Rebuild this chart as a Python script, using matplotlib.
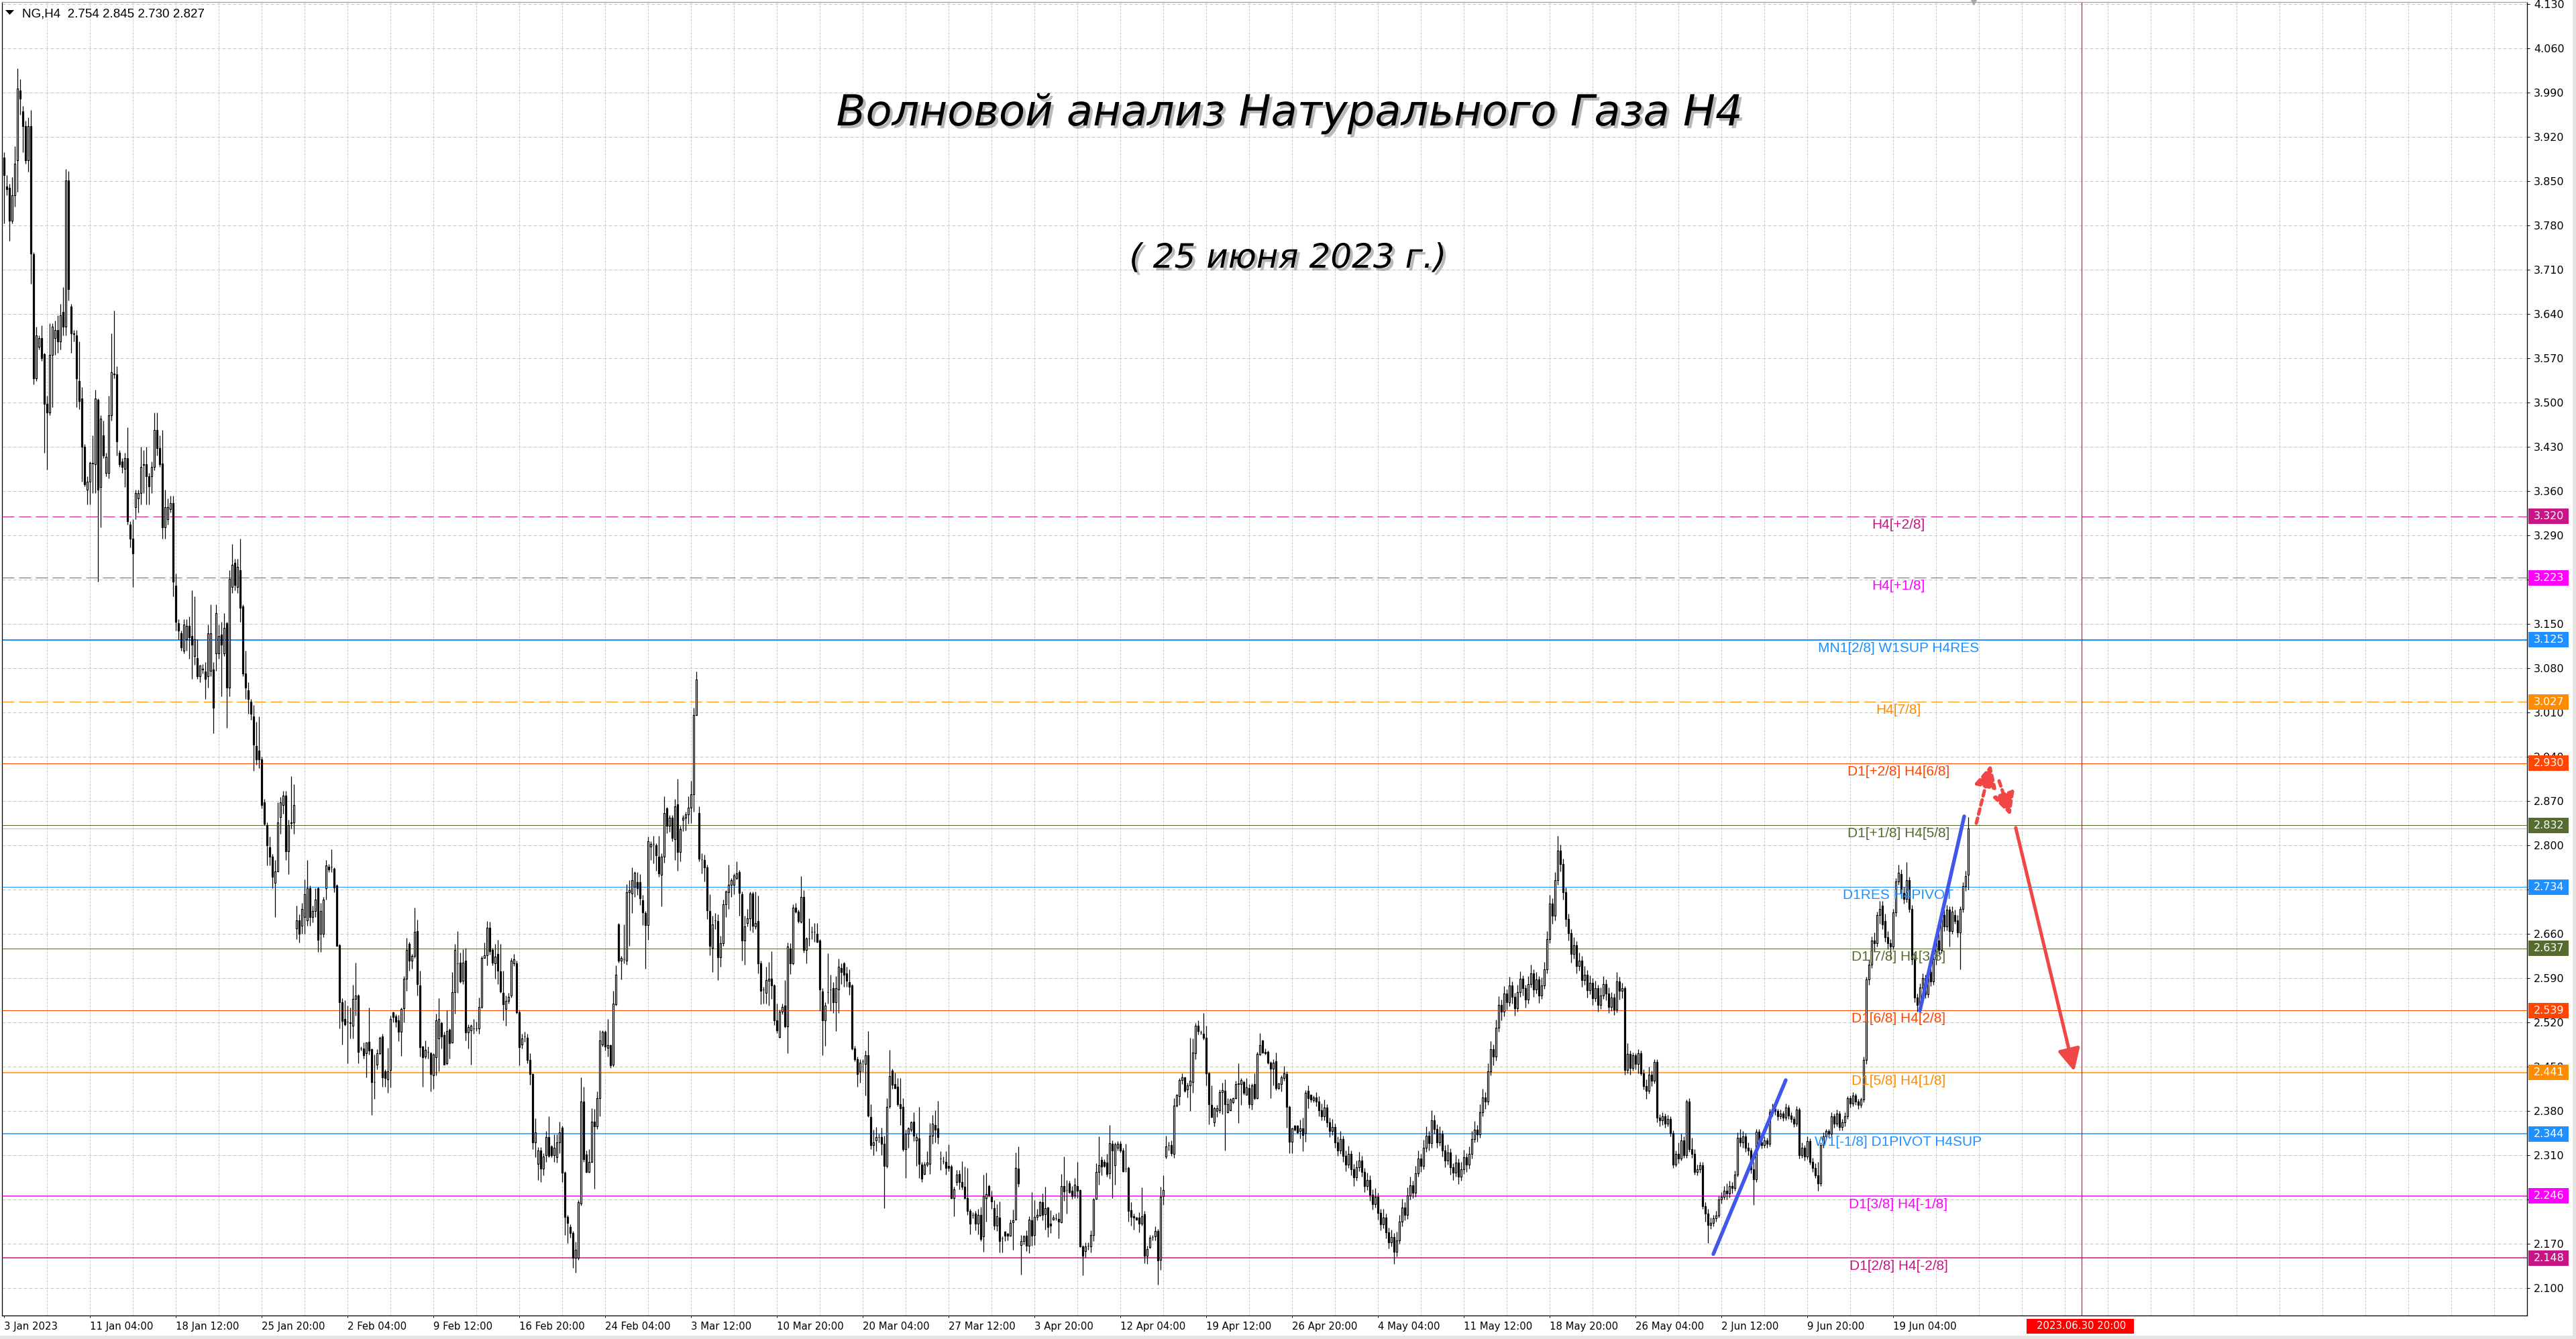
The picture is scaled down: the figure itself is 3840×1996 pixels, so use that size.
import matplotlib
matplotlib.use('Agg')
import matplotlib.pyplot as plt
from matplotlib import font_manager, patheffects
from matplotlib import transforms as mtransforms
from matplotlib.patches import Rectangle, Polygon
from matplotlib.collections import PatchCollection
import numpy as np

# ---------------- DATA (NG, H4 bars) ----------------
opens = [
3.887,3.842,3.839,3.788,3.828,3.883,3.993,3.960,3.937,3.883,
3.937,3.735,3.538,3.588,3.602,3.576,3.498,3.484,3.575,3.602,
3.615,3.597,3.643,3.620,3.851,3.652,3.609,3.606,3.534,3.507,
3.430,3.362,3.375,3.405,3.403,3.504,3.366,3.448,3.389,3.389,
3.480,3.546,3.545,3.421,3.407,3.395,3.412,3.307,3.285,3.335,
3.348,3.357,3.403,3.403,3.383,3.384,3.398,3.457,3.428,3.404,
3.303,3.316,3.332,3.341,3.211,3.151,3.135,3.108,3.126,3.147,
3.131,3.099,3.096,3.067,3.079,3.075,3.067,3.076,3.078,3.104,
3.104,3.133,3.104,3.151,3.049,3.208,3.247,3.208,3.235,3.178,
3.072,3.045,3.027,3.004,2.957,2.950,2.936,2.868,2.832,2.797,
2.782,2.741,2.759,2.845,2.864,2.879,2.791,2.836,2.836,2.669,
2.682,2.673,2.687,2.682,2.732,2.687,2.696,2.732,2.660,2.660,
2.732,2.766,2.766,2.763,2.737,2.642,2.552,2.526,2.521,2.520,
2.515,2.557,2.563,2.479,2.479,2.472,2.490,2.478,2.426,2.454,
2.471,2.498,2.443,2.430,2.445,2.536,2.530,2.523,2.505,2.543,
2.589,2.644,2.618,2.625,2.664,2.579,2.482,2.466,2.474,2.472,
2.437,2.465,2.495,2.519,2.500,2.456,2.509,2.489,2.568,2.614,
2.615,2.586,2.618,2.504,2.508,2.511,2.511,2.511,2.545,2.622,
2.626,2.670,2.635,2.614,2.628,2.601,2.567,2.541,2.554,2.563,
2.614,2.614,2.536,2.485,2.498,2.496,2.461,2.439,2.331,2.297,
2.318,2.289,2.310,2.339,2.324,2.310,2.307,2.330,2.354,2.283,
2.213,2.197,2.187,2.148,2.148,2.234,2.395,2.311,2.284,2.300,
2.363,2.356,2.400,2.485,2.505,2.480,2.484,2.453,2.549,2.675,
2.618,2.620,2.618,2.726,2.724,2.735,2.742,2.742,2.713,2.693,
2.674,2.798,2.802,2.800,2.782,2.754,2.782,2.859,2.831,2.844,
2.810,2.865,2.790,2.841,2.844,2.849,2.860,2.881,3.006,2.851,
2.778,2.777,2.765,2.696,2.638,2.682,2.680,2.623,2.645,2.707,
2.726,2.738,2.738,2.748,2.758,2.723,2.650,2.677,2.685,2.724,
2.672,2.680,2.614,2.572,2.567,2.586,2.589,2.579,2.524,2.497,
2.537,2.547,2.514,2.637,2.614,2.702,2.695,2.679,2.719,2.635,
2.653,2.663,2.663,2.660,2.650,2.569,2.524,2.568,2.572,2.574,
2.552,2.572,2.606,2.614,2.598,2.584,2.579,2.479,2.462,2.443,
2.459,2.455,2.468,2.371,2.326,2.334,2.339,2.339,2.328,2.293,
2.388,2.444,2.423,2.418,2.391,2.387,2.320,2.344,2.351,2.363,
2.334,2.337,2.295,2.281,2.295,2.297,2.341,2.358,2.353,2.305,
2.301,2.300,2.293,2.292,2.243,2.268,2.281,2.268,2.260,2.243,
2.222,2.216,2.218,2.202,2.216,2.182,2.243,2.262,2.245,2.227,
2.199,2.212,2.179,2.189,2.186,2.183,2.204,2.209,2.289,2.168,
2.175,2.183,2.167,2.208,2.184,2.213,2.215,2.236,2.217,2.228,
2.202,2.209,2.211,2.210,2.204,2.262,2.255,2.266,2.254,2.247,
2.262,2.255,2.166,2.159,2.167,2.166,2.184,2.241,2.284,2.303,
2.300,2.299,2.282,2.328,2.294,2.322,2.328,2.318,2.289,2.290,
2.223,2.214,2.212,2.212,2.202,2.217,2.151,2.165,2.181,2.182,
2.190,2.145,2.246,2.308,2.326,2.326,2.312,2.389,2.404,2.429,
2.433,2.414,2.421,2.426,2.472,2.515,2.504,2.502,2.496,2.440,
2.390,2.362,2.380,2.381,2.410,2.412,2.378,2.381,2.394,2.400,
2.423,2.423,2.426,2.406,2.416,2.391,2.423,2.400,2.469,2.492,
2.474,2.474,2.457,2.447,2.459,2.416,2.423,2.432,2.439,2.387,
2.332,2.357,2.357,2.349,2.353,2.345,2.412,2.406,2.397,2.402,
2.395,2.381,2.372,2.386,2.362,2.348,2.355,2.331,2.318,2.336,
2.309,2.296,2.312,2.288,2.275,2.291,2.302,2.284,2.262,2.271,
2.248,2.233,2.245,2.219,2.201,2.212,2.188,2.172,2.181,2.158,
2.176,2.205,2.228,2.216,2.247,2.263,2.251,2.282,2.305,2.293,
2.322,2.341,2.329,2.366,2.352,2.331,2.344,2.318,2.302,2.315,
2.291,2.283,2.299,2.276,2.288,2.307,2.295,2.312,2.336,2.351,
2.343,2.378,2.402,2.395,2.443,2.478,2.466,2.512,2.548,2.537,
2.566,2.552,2.579,2.561,2.543,2.568,2.589,2.574,2.556,2.581,
2.598,2.572,2.588,2.563,2.579,2.604,2.652,2.708,2.689,2.745,
2.792,2.771,2.726,2.684,2.661,2.628,2.642,2.609,2.618,2.587,
2.596,2.571,2.583,2.559,2.574,2.548,2.563,2.581,2.566,2.545,
2.560,2.540,2.585,2.570,2.574,2.445,2.470,2.448,2.468,2.455,
2.472,2.440,2.420,2.412,2.438,2.428,2.458,2.370,2.365,2.372,
2.360,2.368,2.345,2.296,2.312,2.305,2.334,2.310,2.395,2.320,
2.312,2.284,2.288,2.294,2.230,2.218,2.200,2.203,2.211,2.215,
2.240,2.245,2.254,2.250,2.262,2.258,2.280,2.338,2.330,2.340,
2.322,2.318,2.288,2.272,2.347,2.330,2.326,2.334,2.328,2.378,
2.383,2.380,2.372,2.376,2.370,2.386,2.373,2.368,2.360,2.382,
2.310,2.322,2.308,2.333,2.300,2.290,2.278,2.266,2.326,2.340,
2.348,2.344,2.372,2.360,2.376,2.355,2.362,2.372,2.400,2.392,
2.405,2.395,2.390,2.398,2.461,2.588,2.612,2.650,2.645,2.690,
2.705,2.680,2.655,2.645,2.640,2.694,2.743,2.755,2.725,2.715,
2.745,2.700,2.620,2.560,2.548,2.575,2.590,2.565,2.600,2.585,
2.620,2.650,2.635,2.690,2.672,2.698,2.665,2.690,2.682,2.662,
2.700,2.736,2.754]

highs = [
3.896,3.860,3.846,3.856,3.905,4.028,4.011,3.969,3.946,3.951,
3.962,3.738,3.620,3.606,3.622,3.579,3.511,3.625,3.625,3.629,
3.638,3.656,3.683,3.869,3.866,3.656,3.615,3.615,3.597,3.525,
3.434,3.384,3.407,3.448,3.520,3.507,3.480,3.471,3.421,3.511,
3.609,3.645,3.557,3.425,3.412,3.421,3.461,3.312,3.316,3.362,
3.362,3.430,3.425,3.430,3.389,3.407,3.484,3.484,3.448,3.457,
3.362,3.348,3.353,3.353,3.230,3.158,3.140,3.158,3.158,3.162,
3.203,3.194,3.126,3.085,3.087,3.090,3.149,3.181,3.090,3.181,
3.149,3.153,3.167,3.153,3.235,3.276,3.253,3.253,3.285,3.181,
3.108,3.058,3.031,3.022,2.995,3.004,2.940,2.873,2.836,2.814,
2.786,2.777,2.868,2.877,2.886,2.886,2.841,2.909,2.897,2.705,
2.691,2.709,2.746,2.777,2.737,2.705,2.732,2.734,2.709,2.719,
2.777,2.771,2.794,2.765,2.739,2.644,2.558,2.555,2.547,2.544,
2.580,2.615,2.565,2.482,2.489,2.489,2.544,2.479,2.469,2.478,
2.498,2.502,2.446,2.480,2.531,2.537,2.533,2.532,2.544,2.593,
2.654,2.648,2.628,2.702,2.683,2.602,2.483,2.492,2.482,2.474,
2.471,2.534,2.559,2.521,2.505,2.539,2.511,2.600,2.644,2.665,
2.631,2.636,2.638,2.517,2.517,2.526,2.521,2.560,2.625,2.646,
2.680,2.679,2.638,2.644,2.651,2.644,2.602,2.563,2.567,2.622,
2.628,2.618,2.539,2.502,2.505,2.502,2.472,2.440,2.369,2.323,
2.323,2.313,2.349,2.372,2.326,2.343,2.343,2.363,2.357,2.285,
2.216,2.201,2.190,2.174,2.239,2.433,2.419,2.318,2.320,2.385,
2.383,2.411,2.508,2.508,2.508,2.526,2.485,2.570,2.610,2.677,
2.625,2.675,2.739,2.745,2.765,2.759,2.758,2.755,2.722,2.696,
2.814,2.807,2.815,2.803,2.815,2.787,2.878,2.861,2.848,2.848,
2.873,2.905,2.831,2.848,2.853,2.878,2.902,3.018,3.075,2.862,
2.787,2.785,2.770,2.723,2.689,2.693,2.691,2.657,2.714,2.729,
2.770,2.748,2.756,2.775,2.761,2.727,2.689,2.699,2.727,2.727,
2.727,2.721,2.618,2.577,2.608,2.616,2.633,2.581,2.550,2.540,
2.550,2.587,2.646,2.645,2.707,2.709,2.698,2.752,2.729,2.655,
2.685,2.672,2.677,2.677,2.652,2.574,2.552,2.630,2.596,2.584,
2.594,2.621,2.614,2.616,2.608,2.604,2.581,2.483,2.466,2.462,
2.462,2.476,2.506,2.391,2.351,2.355,2.344,2.354,2.341,2.401,
2.477,2.447,2.441,2.432,2.432,2.400,2.351,2.355,2.364,2.378,
2.344,2.387,2.300,2.300,2.317,2.361,2.374,2.381,2.396,2.317,
2.308,2.317,2.327,2.295,2.260,2.287,2.287,2.301,2.292,2.290,
2.226,2.220,2.222,2.226,2.229,2.280,2.283,2.264,2.254,2.239,
2.233,2.237,2.182,2.190,2.187,2.209,2.224,2.315,2.324,2.184,
2.184,2.192,2.214,2.252,2.239,2.226,2.238,2.250,2.261,2.229,
2.223,2.216,2.218,2.220,2.281,2.308,2.271,2.270,2.262,2.274,
2.300,2.256,2.168,2.172,2.173,2.192,2.243,2.298,2.340,2.308,
2.304,2.312,2.358,2.334,2.330,2.333,2.333,2.322,2.328,2.292,
2.236,2.218,2.213,2.220,2.259,2.222,2.167,2.184,2.184,2.198,
2.194,2.260,2.279,2.341,2.332,2.334,2.400,2.407,2.432,2.440,
2.434,2.425,2.496,2.495,2.519,2.523,2.508,2.535,2.515,2.442,
2.421,2.387,2.390,2.414,2.425,2.430,2.400,2.400,2.402,2.428,
2.456,2.432,2.428,2.432,2.423,2.424,2.440,2.474,2.503,2.493,
2.479,2.476,2.459,2.462,2.473,2.425,2.436,2.451,2.443,2.389,
2.354,2.358,2.358,2.367,2.370,2.413,2.421,2.407,2.405,2.410,
2.404,2.392,2.398,2.391,2.370,2.368,2.360,2.340,2.349,2.341,
2.318,2.325,2.318,2.297,2.302,2.316,2.309,2.290,2.283,2.279,
2.256,2.258,2.251,2.226,2.225,2.218,2.196,2.193,2.187,2.189,
2.216,2.241,2.236,2.259,2.276,2.270,2.293,2.318,2.312,2.335,
2.356,2.349,2.381,2.374,2.359,2.356,2.350,2.326,2.327,2.321,
2.298,2.311,2.305,2.300,2.319,2.314,2.324,2.348,2.364,2.358,
2.391,2.415,2.410,2.456,2.491,2.485,2.525,2.562,2.556,2.578,
2.572,2.592,2.585,2.567,2.580,2.601,2.595,2.580,2.593,2.611,
2.604,2.600,2.594,2.591,2.616,2.665,2.722,2.716,2.758,2.815,
2.801,2.779,2.733,2.692,2.668,2.655,2.649,2.631,2.625,2.609,
2.603,2.595,2.590,2.586,2.580,2.575,2.593,2.588,2.575,2.568,
2.566,2.600,2.592,2.583,2.578,2.487,2.476,2.473,2.472,2.478,
2.476,2.446,2.430,2.450,2.444,2.462,2.462,2.375,2.378,2.376,
2.374,2.372,2.350,2.318,2.330,2.344,2.340,2.398,2.400,2.338,
2.320,2.295,2.300,2.300,2.236,2.226,2.212,2.216,2.222,2.246,
2.252,2.262,2.266,2.270,2.268,2.286,2.346,2.352,2.348,2.345,
2.330,2.322,2.300,2.352,2.352,2.340,2.340,2.338,2.384,2.392,
2.390,2.384,2.382,2.380,2.392,2.390,2.378,2.372,2.388,2.386,
2.330,2.326,2.340,2.337,2.306,2.298,2.300,2.330,2.346,2.352,
2.352,2.378,2.376,2.382,2.380,2.368,2.378,2.404,2.405,2.410,
2.408,2.399,2.402,2.466,2.592,2.620,2.656,2.662,2.695,2.712,
2.712,2.692,2.664,2.652,2.700,2.748,2.770,2.762,2.734,2.774,
2.750,2.706,2.628,2.566,2.582,2.598,2.596,2.606,2.606,2.626,
2.658,2.660,2.702,2.698,2.706,2.704,2.704,2.698,2.690,2.704,
2.742,2.760,2.845]

lows = [
3.783,3.828,3.756,3.783,3.810,3.833,3.955,3.896,3.878,3.865,
3.688,3.529,3.534,3.584,3.566,3.421,3.394,3.480,3.493,3.575,
3.579,3.584,3.606,3.606,3.661,3.579,3.597,3.493,3.489,3.375,
3.368,3.339,3.339,3.357,3.357,3.217,3.303,3.412,3.384,3.380,
3.471,3.538,3.416,3.398,3.389,3.366,3.307,3.271,3.208,3.316,
3.326,3.339,3.357,3.339,3.339,3.357,3.393,3.416,3.398,3.285,
3.285,3.307,3.326,3.194,3.140,3.126,3.108,3.104,3.108,3.095,
3.063,3.085,3.063,3.058,3.072,3.031,3.049,3.067,2.977,3.076,
3.095,3.036,3.099,2.986,3.036,3.199,3.203,3.199,3.153,3.067,
3.031,3.008,2.999,2.918,2.927,2.922,2.859,2.832,2.768,2.768,
2.732,2.687,2.759,2.818,2.850,2.777,2.755,2.827,2.818,2.652,
2.646,2.660,2.660,2.673,2.673,2.678,2.687,2.632,2.632,2.655,
2.714,2.758,2.758,2.726,2.641,2.511,2.485,2.515,2.456,2.495,
2.495,2.531,2.456,2.476,2.463,2.433,2.469,2.374,2.399,2.446,
2.469,2.419,2.419,2.409,2.417,2.520,2.513,2.491,2.467,2.520,
2.570,2.602,2.605,2.622,2.563,2.466,2.419,2.463,2.463,2.411,
2.415,2.437,2.443,2.479,2.453,2.454,2.463,2.487,2.534,2.567,
2.583,2.581,2.492,2.479,2.453,2.502,2.506,2.502,2.543,2.622,
2.610,2.627,2.610,2.589,2.581,2.567,2.524,2.515,2.550,2.560,
2.609,2.534,2.452,2.479,2.490,2.456,2.422,2.320,2.307,2.271,
2.268,2.278,2.300,2.307,2.307,2.300,2.299,2.313,2.268,2.184,
2.171,2.180,2.132,2.125,2.145,2.231,2.300,2.283,2.283,2.299,
2.257,2.352,2.372,2.482,2.476,2.466,2.448,2.450,2.547,2.615,
2.588,2.614,2.612,2.641,2.693,2.719,2.722,2.706,2.674,2.605,
2.651,2.777,2.772,2.760,2.750,2.704,2.773,2.819,2.821,2.807,
2.777,2.760,2.775,2.822,2.824,2.834,2.835,2.853,3.006,2.775,
2.756,2.743,2.684,2.626,2.600,2.668,2.587,2.608,2.641,2.687,
2.700,2.719,2.723,2.746,2.689,2.618,2.611,2.672,2.666,2.662,
2.668,2.598,2.549,2.550,2.550,2.547,2.557,2.516,2.503,2.496,
2.533,2.512,2.472,2.597,2.612,2.693,2.677,2.677,2.631,2.614,
2.641,2.652,2.648,2.646,2.538,2.468,2.483,2.550,2.538,2.535,
2.506,2.535,2.581,2.577,2.577,2.564,2.477,2.459,2.418,2.425,
2.442,2.405,2.371,2.320,2.310,2.317,2.330,2.310,2.227,2.290,
2.385,2.415,2.415,2.388,2.358,2.317,2.274,2.322,2.347,2.333,
2.293,2.274,2.268,2.280,2.292,2.281,2.328,2.330,2.328,2.287,
2.297,2.280,2.285,2.241,2.214,2.263,2.256,2.256,2.241,2.216,
2.185,2.211,2.192,2.185,2.175,2.158,2.205,2.245,2.226,2.193,
2.190,2.157,2.157,2.175,2.176,2.182,2.161,2.209,2.260,2.122,
2.169,2.159,2.156,2.167,2.168,2.207,2.214,2.208,2.193,2.181,
2.187,2.208,2.208,2.179,2.203,2.238,2.218,2.250,2.241,2.242,
2.243,2.165,2.120,2.149,2.161,2.157,2.175,2.240,2.264,2.279,
2.291,2.276,2.273,2.243,2.264,2.318,2.315,2.284,2.284,2.205,
2.199,2.193,2.207,2.188,2.199,2.140,2.139,2.163,2.176,2.176,
2.106,2.129,2.232,2.305,2.318,2.309,2.306,2.387,2.390,2.423,
2.410,2.402,2.380,2.409,2.462,2.501,2.501,2.493,2.421,2.359,
2.370,2.356,2.371,2.377,2.375,2.318,2.377,2.380,2.392,2.399,
2.361,2.390,2.406,2.406,2.385,2.382,2.398,2.399,2.468,2.471,
2.469,2.455,2.401,2.421,2.413,2.414,2.411,2.428,2.354,2.314,
2.313,2.349,2.344,2.337,2.317,2.332,2.385,2.394,2.394,2.388,
2.372,2.365,2.366,2.355,2.339,2.342,2.322,2.309,2.312,2.300,
2.285,2.290,2.279,2.262,2.270,2.285,2.276,2.252,2.255,2.238,
2.224,2.228,2.209,2.192,2.195,2.179,2.163,2.166,2.139,2.150,
2.170,2.198,2.207,2.210,2.240,2.242,2.245,2.276,2.284,2.288,
2.316,2.318,2.322,2.344,2.322,2.325,2.308,2.291,2.295,2.280,
2.271,2.276,2.265,2.270,2.281,2.284,2.289,2.305,2.330,2.332,
2.338,2.372,2.383,2.390,2.437,2.452,2.460,2.505,2.524,2.530,
2.540,2.546,2.550,2.531,2.537,2.561,2.563,2.544,2.550,2.575,
2.561,2.566,2.551,2.557,2.573,2.598,2.645,2.676,2.682,2.738,
2.759,2.714,2.672,2.650,2.615,2.621,2.598,2.602,2.576,2.580,
2.560,2.565,2.548,2.553,2.537,2.542,2.557,2.555,2.535,2.538,
2.532,2.536,2.556,2.558,2.438,2.440,2.438,2.444,2.446,2.440,
2.436,2.414,2.399,2.408,2.420,2.424,2.362,2.356,2.358,2.354,
2.356,2.340,2.290,2.292,2.298,2.302,2.306,2.306,2.316,2.306,
2.280,2.278,2.283,2.226,2.205,2.171,2.194,2.198,2.205,2.212,
2.234,2.240,2.240,2.244,2.250,2.254,2.276,2.324,2.322,2.316,
2.310,2.282,2.232,2.268,2.325,2.321,2.322,2.322,2.324,2.372,
2.374,2.366,2.368,2.364,2.366,2.368,2.362,2.355,2.356,2.305,
2.306,2.302,2.304,2.296,2.284,2.274,2.254,2.262,2.322,2.336,
2.338,2.340,2.354,2.356,2.350,2.350,2.356,2.368,2.386,2.388,
2.390,2.384,2.386,2.394,2.455,2.580,2.606,2.632,2.640,2.676,
2.668,2.648,2.636,2.620,2.636,2.688,2.738,2.716,2.708,2.710,
2.694,2.612,2.552,2.537,2.542,2.568,2.558,2.560,2.578,2.580,
2.612,2.628,2.630,2.664,2.666,2.640,2.660,2.676,2.655,2.604,
2.694,2.728,2.730]

closes = [
3.860,3.837,3.788,3.828,3.878,3.996,3.980,3.937,3.883,3.937,
3.736,3.538,3.606,3.602,3.570,3.498,3.484,3.575,3.620,3.615,
3.597,3.638,3.620,3.851,3.679,3.609,3.608,3.538,3.502,3.430,
3.371,3.375,3.405,3.404,3.507,3.362,3.475,3.416,3.414,3.480,
3.548,3.545,3.439,3.403,3.398,3.412,3.312,3.285,3.262,3.357,
3.357,3.398,3.402,3.384,3.368,3.398,3.457,3.428,3.403,3.303,
3.335,3.335,3.341,3.217,3.153,3.140,3.113,3.149,3.147,3.129,
3.117,3.126,3.067,3.084,3.078,3.063,3.135,3.135,3.018,3.167,
3.131,3.117,3.144,3.049,3.221,3.244,3.212,3.240,3.176,3.072,
3.049,3.031,3.008,2.959,2.936,2.936,2.864,2.834,2.800,2.782,
2.750,2.759,2.836,2.868,2.879,2.791,2.832,2.835,2.864,2.682,
2.660,2.700,2.723,2.732,2.687,2.696,2.714,2.651,2.696,2.714,
2.768,2.762,2.766,2.733,2.641,2.552,2.522,2.517,2.521,2.519,
2.557,2.563,2.474,2.479,2.468,2.489,2.476,2.426,2.426,2.472,
2.496,2.433,2.432,2.443,2.526,2.529,2.521,2.505,2.541,2.589,
2.635,2.618,2.625,2.663,2.581,2.481,2.465,2.477,2.474,2.439,
2.469,2.524,2.526,2.498,2.454,2.507,2.487,2.568,2.635,2.614,
2.585,2.615,2.504,2.513,2.515,2.511,2.511,2.545,2.622,2.626,
2.670,2.633,2.615,2.624,2.602,2.569,2.549,2.554,2.561,2.618,
2.620,2.536,2.481,2.495,2.498,2.461,2.439,2.331,2.346,2.318,
2.289,2.308,2.339,2.309,2.310,2.322,2.330,2.346,2.283,2.213,
2.203,2.187,2.148,2.161,2.236,2.395,2.304,2.284,2.300,2.363,
2.356,2.400,2.492,2.505,2.482,2.484,2.452,2.550,2.596,2.618,
2.622,2.620,2.726,2.729,2.745,2.757,2.732,2.716,2.694,2.674,
2.807,2.802,2.802,2.784,2.756,2.782,2.851,2.831,2.844,2.812,
2.862,2.790,2.826,2.844,2.849,2.860,2.881,3.006,3.062,2.779,
2.778,2.765,2.697,2.641,2.675,2.682,2.623,2.645,2.707,2.727,
2.738,2.745,2.753,2.756,2.725,2.650,2.672,2.685,2.724,2.673,
2.677,2.614,2.570,2.572,2.587,2.589,2.579,2.523,2.508,2.537,
2.545,2.514,2.640,2.614,2.702,2.695,2.680,2.719,2.635,2.653,
2.653,2.663,2.663,2.648,2.572,2.524,2.547,2.568,2.572,2.552,
2.574,2.608,2.600,2.596,2.586,2.577,2.479,2.462,2.439,2.457,
2.459,2.468,2.373,2.326,2.330,2.339,2.339,2.328,2.293,2.387,
2.435,2.422,2.416,2.391,2.385,2.320,2.344,2.353,2.362,2.341,
2.339,2.297,2.273,2.295,2.299,2.341,2.360,2.351,2.339,2.305,
2.301,2.290,2.290,2.243,2.256,2.280,2.268,2.260,2.243,2.222,
2.202,2.216,2.202,2.216,2.178,2.246,2.249,2.247,2.237,2.199,
2.214,2.175,2.179,2.183,2.183,2.203,2.208,2.290,2.266,2.175,
2.182,2.167,2.209,2.183,2.213,2.216,2.236,2.216,2.227,2.197,
2.199,2.212,2.211,2.205,2.262,2.253,2.255,2.252,2.246,2.264,
2.254,2.166,2.151,2.166,2.167,2.184,2.240,2.284,2.294,2.292,
2.293,2.281,2.329,2.318,2.327,2.328,2.318,2.285,2.289,2.222,
2.213,2.212,2.209,2.202,2.214,2.151,2.162,2.180,2.181,2.190,
2.144,2.245,2.255,2.324,2.326,2.313,2.389,2.406,2.429,2.433,
2.412,2.421,2.428,2.473,2.515,2.506,2.504,2.496,2.440,2.391,
2.371,2.385,2.385,2.410,2.413,2.391,2.391,2.398,2.400,2.423,
2.424,2.429,2.409,2.417,2.391,2.421,2.400,2.470,2.484,2.473,
2.471,2.457,2.447,2.457,2.416,2.424,2.433,2.440,2.387,2.332,
2.353,2.351,2.346,2.353,2.342,2.409,2.400,2.398,2.402,2.395,
2.381,2.372,2.386,2.362,2.348,2.355,2.331,2.318,2.336,2.309,
2.296,2.312,2.288,2.275,2.291,2.302,2.284,2.262,2.271,2.248,
2.233,2.245,2.219,2.201,2.212,2.188,2.172,2.181,2.158,2.176,
2.205,2.228,2.216,2.247,2.263,2.251,2.282,2.305,2.293,2.322,
2.341,2.329,2.366,2.352,2.331,2.344,2.318,2.302,2.315,2.291,
2.283,2.299,2.276,2.288,2.307,2.295,2.312,2.336,2.351,2.343,
2.378,2.402,2.395,2.443,2.478,2.466,2.512,2.548,2.537,2.566,
2.552,2.579,2.561,2.543,2.568,2.589,2.574,2.556,2.581,2.598,
2.572,2.588,2.563,2.579,2.604,2.652,2.708,2.689,2.745,2.792,
2.771,2.726,2.684,2.661,2.628,2.642,2.609,2.618,2.587,2.596,
2.571,2.583,2.559,2.574,2.548,2.563,2.581,2.566,2.545,2.560,
2.540,2.585,2.570,2.574,2.445,2.470,2.448,2.468,2.455,2.472,
2.440,2.420,2.412,2.438,2.428,2.458,2.370,2.365,2.372,2.360,
2.368,2.345,2.296,2.312,2.305,2.334,2.310,2.395,2.320,2.312,
2.284,2.288,2.294,2.230,2.218,2.200,2.203,2.211,2.215,2.240,
2.245,2.254,2.250,2.262,2.258,2.280,2.338,2.330,2.340,2.322,
2.318,2.288,2.272,2.347,2.330,2.326,2.334,2.328,2.378,2.383,
2.380,2.372,2.376,2.370,2.386,2.373,2.368,2.360,2.382,2.310,
2.322,2.308,2.333,2.300,2.290,2.278,2.266,2.326,2.340,2.348,
2.344,2.372,2.360,2.376,2.355,2.362,2.372,2.400,2.392,2.405,
2.395,2.390,2.398,2.461,2.588,2.612,2.650,2.645,2.690,2.700,
2.675,2.655,2.645,2.640,2.694,2.743,2.757,2.725,2.715,2.745,
2.700,2.620,2.560,2.548,2.575,2.590,2.565,2.600,2.585,2.620,
2.650,2.635,2.690,2.672,2.698,2.665,2.695,2.680,2.662,2.700,
2.736,2.752,2.827]

date_labels = ["3 Jan 2023", "11 Jan 04:00", "18 Jan 12:00", "25 Jan 20:00", "2 Feb 04:00",
               "9 Feb 12:00", "16 Feb 20:00", "24 Feb 04:00", "3 Mar 12:00", "10 Mar 20:00",
               "20 Mar 04:00", "27 Mar 12:00", "3 Apr 20:00", "12 Apr 04:00", "19 Apr 12:00",
               "26 Apr 20:00", "4 May 04:00", "11 May 12:00", "18 May 20:00", "26 May 04:00",
               "2 Jun 12:00", "9 Jun 20:00", "19 Jun 04:00"]
bars_per_label = 32

level_prices = [3.320, 3.223, 3.125, 3.027, 2.930, 2.832, 2.734, 2.637, 2.539, 2.441, 2.344, 2.246, 2.148]
level_labels = ["H4[+2/8]", "H4[+1/8]", "MN1[2/8] W1SUP H4RES", "H4[7/8]", "D1[+2/8] H4[6/8]",
                "D1[+1/8] H4[5/8]", "D1RES H4PIVOT", "D1[7/8] H4[3/8]", "D1[6/8] H4[2/8]",
                "D1[5/8] H4[1/8]", "W1[-1/8] D1PIVOT H4SUP", "D1[3/8] H4[-1/8]", "D1[2/8] H4[-2/8]"]
level_colors = ["#C71585", "#FF00FF", "#1E90FF", "#FF8C00", "#FF4500", "#556B2F", "#1E90FF",
                "#556B2F", "#FF4500", "#FF8C00", "#1E90FF", "#FF00FF", "#C71585"]
level_dashed = [True, True, False, True, False, False, False, False, False, False, False, False, False]
level_width_px = [1, 1, 2, 1, 1, 1, 1, 1, 1, 1.5, 1.5, 1.5, 1.5]

# wave markup (bar index, price)
wave_a_x, wave_a_y = [637.0, 664.0], [2.154, 2.429]
wave_b_x, wave_b_y = [714.0, 730.5], [2.539, 2.846]
arrow_up = ((735.0, 2.835), (740.5, 2.928))
arrow_back = ((743.5, 2.902), (747.8, 2.847))
arrow_down = ((749.7, 2.828), (771.5, 2.443))
forecast_bar = 774.25
forecast_label = "2023.06.30 20:00"

title = "Волновой анализ Натурального Газа H4"
subtitle = "( 25 июня 2023 г.)"
header = "NG,H4  2.754 2.845 2.730 2.827"

# ---------------- FIGURE ----------------
W, H, DPI = 3840, 1996, 100
fig = plt.figure(figsize=(W / DPI, H / DPI), dpi=DPI)
fig.patch.set_facecolor('white')

names = {f.name for f in font_manager.fontManager.ttflist}
NARROW = 'Liberation Sans Narrow' if 'Liberation Sans Narrow' in names else 'DejaVu Sans'
SANS = 'Liberation Sans' if 'Liberation Sans' in names else 'DejaVu Sans'
nscale = 1.0 if NARROW == 'Liberation Sans Narrow' else 0.78


def pt(px):
    return px * 72.0 / DPI


ax = fig.add_axes([3 / W, 35 / H, 3764 / W, 1958 / H])
ax.set_facecolor('white')
ax.set_xlim(-0.75, 940.25)
ax.set_ylim(2.0569, 4.1332)

o = np.array(opens); h = np.array(highs); l = np.array(lows); c = np.array(closes)
n = len(c)
xs = np.arange(n)

# grid
yticks = [round(2.10 + 0.07 * k, 3) for k in range(30)]
for yv in yticks:
    ax.axhline(yv, color='#C8C8C8', lw=pt(1), dashes=(5, 3), zorder=0)
for xb in range(16, 941, 16):
    ax.axvline(xb, color='#C8C8C8', lw=pt(1), dashes=(3, 2), zorder=0)

# level lines
for p, col, dsh, wpx in zip(level_prices, level_colors, level_dashed, level_width_px):
    if dsh:
        ax.axhline(p, color=col, lw=pt(wpx), dashes=(18, 7), zorder=1)
    else:
        ax.axhline(p, color=col, lw=pt(wpx), zorder=1)
# bid line
ax.axhline(c[-1], color='#C0C0C0', lw=pt(1), zorder=1)
# time marker
ax.axvline(forecast_bar, color='#FF0000', lw=pt(1.2), zorder=1)

# candles
ax.vlines(xs, np.minimum(l, np.minimum(o, c)), np.maximum(h, np.maximum(o, c)),
          color='black', lw=pt(1.25), zorder=3)
bw = 0.55
rects = [Rectangle((i - bw / 2, min(o[i], c[i])), bw, max(abs(c[i] - o[i]), 1e-5)) for i in range(n)]
pc = PatchCollection(rects, facecolors=['white' if c[i] >= o[i] else 'black' for i in range(n)],
                     edgecolors='black', linewidths=pt(1.2), zorder=4)
ax.add_collection(pc)

# level labels
lab_tr = mtransforms.offset_copy(ax.transData, fig=fig, x=0, y=-3, units='dots')
for p, txt, col in zip(level_prices, level_labels, level_colors):
    ax.text(706, p, txt, color=col, fontsize=15, family=SANS, ha='center', va='top',
            transform=lab_tr, zorder=6)

# wave lines
blue = '#4157EA'
ax.plot(wave_a_x, wave_a_y, color=blue, lw=pt(5.5), solid_capstyle='round', zorder=7)
ax.plot(wave_b_x, wave_b_y, color=blue, lw=pt(5.5), solid_capstyle='round', zorder=7)

red = '#F04646'
for (p0, p1), ls in [(arrow_up, (0, (1.6, 1.2))), (arrow_back, (0, (1.6, 1.2))), (arrow_down, '-')]:
    ax.annotate('', xy=p1, xytext=p0, zorder=7,
                arrowprops=dict(arrowstyle='-|>,head_length=0.8,head_width=0.4', color=red,
                                lw=pt(5), linestyle=ls, shrinkA=0, shrinkB=0, mutation_scale=25))

# axes styling
for s in ['left', 'bottom', 'right']:
    ax.spines[s].set_color('black')
    ax.spines[s].set_linewidth(pt(1.3))
ax.spines['top'].set_color('#A0A0A0')
ax.spines['top'].set_linewidth(pt(1.3))

ax.yaxis.tick_right()
ax.set_yticks(yticks)
ax.set_yticklabels([f"{v:.3f}" for v in yticks], family=NARROW)
ax.tick_params(axis='y', direction='out', length=pt(4), width=pt(1), pad=pt(6),
               labelsize=14.8 * nscale, colors='black')
label_bars = [k * bars_per_label for k in range(len(date_labels))]
ax.set_xticks(label_bars)
ax.set_xticklabels(date_labels, family=NARROW, ha='left')
ax.tick_params(axis='x', direction='out', length=pt(3), width=pt(1), pad=pt(6),
               labelsize=13.7 * nscale, colors='black')

# right-side level price boxes
btr = mtransforms.blended_transform_factory(ax.transAxes, ax.transData)
bh = 23 / 943.0
for p, col in zip(level_prices, level_colors):
    ax.add_patch(Rectangle((1.00053, p - bh / 2), 60 / 3764, bh, transform=btr, facecolor=col,
                           edgecolor='none', clip_on=False, zorder=10))
    ax.text(1.00266, p, f"{p:.3f}", transform=btr, color='white', fontsize=14.8 * nscale,
            family=NARROW, ha='left', va='center', clip_on=False, zorder=11)

# bottom time label
ttr = mtransforms.blended_transform_factory(ax.transData, ax.transAxes)
ax.add_patch(Rectangle((forecast_bar - 20.5, -0.0138), 40.0, 0.0114, transform=ttr, facecolor='#FF0000',
                       edgecolor='none', clip_on=False, zorder=10))
ax.text(forecast_bar, -0.0081, forecast_label, transform=ttr, color='white', fontsize=13.7 * nscale,
        family=NARROW, ha='center', va='center', clip_on=False, zorder=11)

# chart shift marker
ax.plot([n + 1], [ax.get_ylim()[1]], marker='v', color='#A8A8A8', ms=6, clip_on=False, zorder=12)

# header
fig.add_artist(Polygon([[8 / W, 1 - 15 / H], [21 / W, 1 - 15 / H], [14.5 / W, 1 - 22 / H]],
                       closed=True, transform=fig.transFigure, facecolor='black', edgecolor='none'))
fig.text(33 / W, 1 - 26 / H, header, family=SANS, fontsize=13.5, va='baseline', ha='left')

# titles
shadow = [patheffects.withSimplePatchShadow(offset=(3, -3), shadow_rgbFace='#808080', alpha=0.55)]
fig.text(1922 / W, 1 - 187 / H, title, family='DejaVu Sans', fontstyle='oblique', fontsize=46,
         ha='center', va='baseline', color='black', path_effects=shadow)
fig.text(1920 / W, 1 - 399 / H, subtitle, family='DejaVu Sans', fontstyle='oblique', fontsize=36,
         ha='center', va='baseline', color='black', path_effects=shadow)

# window frame strips
fig.add_artist(Rectangle((3835 / W, 0), 5 / W, 1, transform=fig.transFigure, facecolor='#E4E4E4',
                         edgecolor='none'))
fig.add_artist(Rectangle((0, 0), 1, 5 / H, transform=fig.transFigure, facecolor='#E4E4E4',
                         edgecolor='none'))

fig.savefig('out.png', dpi=DPI, facecolor='white')
